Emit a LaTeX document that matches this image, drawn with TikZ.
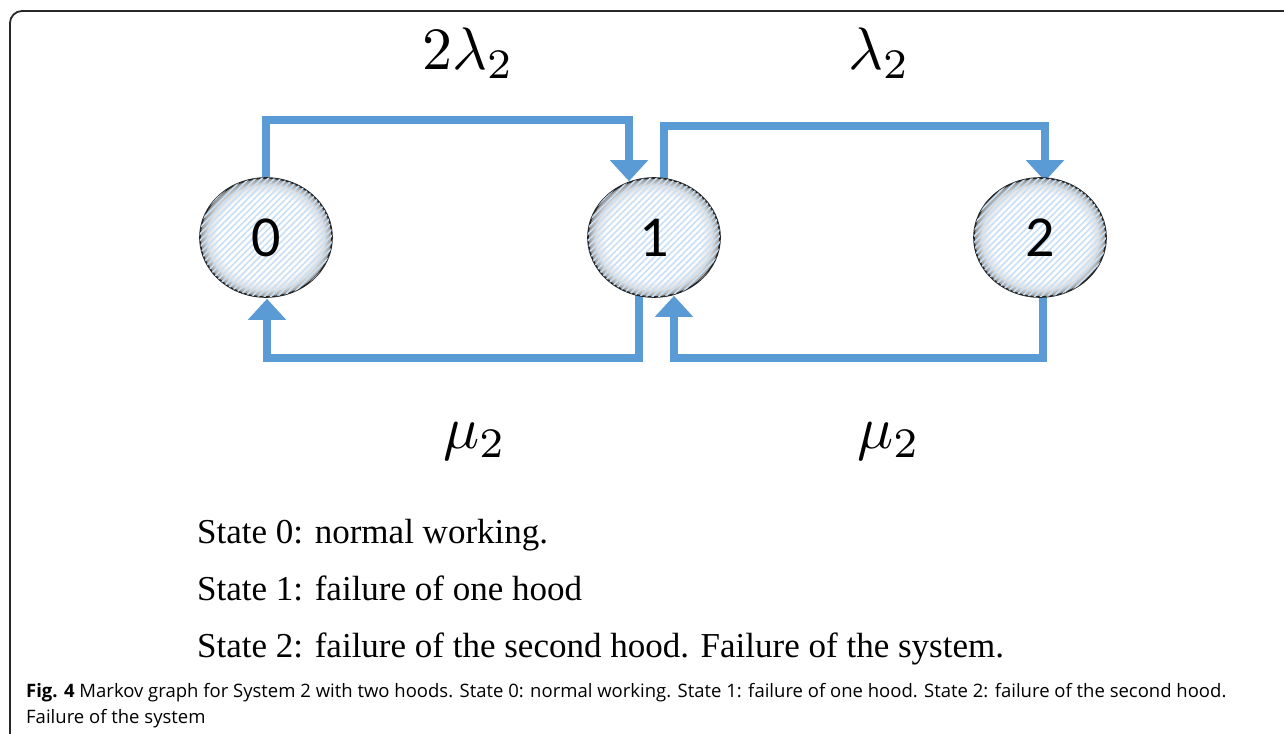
\documentclass[tikz,border=0pt]{standalone}
\usepackage{graphicx}
\usepackage{fontspec}
\setmainfont{Liberation Serif}
\newfontfamily\digitfont{Carlito}
\newfontfamily\capfont{Open Sans}
\usetikzlibrary{shapes.geometric,arrows.meta,patterns.meta,backgrounds}
\definecolor{flowblue}{RGB}{91,155,213}
\definecolor{stripeblue}{RGB}{200,224,246}
\definecolor{framegray}{RGB}{40,40,40}
\pgfdeclareradialshading{ballsh}{\pgfpoint{0bp}{0bp}}{color(0bp)=(white); color(18bp)=(white); color(22bp)=(black!12); color(25bp)=(black!45); color(50bp)=(black!45)}
\tikzset{
  statenode/.style={ellipse, draw=black!85, line width=1.6pt, minimum width=132pt, minimum height=119pt, inner sep=0pt,
    shading=ballsh,
    postaction={pattern={Lines[angle=45,distance=4.5pt,line width=1.6pt]}, pattern color=stripeblue},
    font=\digitfont\fontsize{58}{58}\selectfont},
  flow/.style={draw=flowblue, line width=8pt, -{Triangle[width=37pt,length=21pt]}},
  ratelabel/.style={anchor=base west, inner sep=0pt},
  statetext/.style={anchor=base west, inner sep=0pt, font=\fontsize{35}{35}\selectfont},
  captext/.style={anchor=base west, inner sep=0pt, align=left, font=\capfont\fontsize{18.5}{26}\selectfont}
}
\begin{document}
\begin{tikzpicture}[x=1pt,y=-1pt]
\useasboundingbox (0,0) rectangle (1284,733);
% frame
\coordinate (fbl) at (10,740);
\coordinate (ftl) at (10,11);
\coordinate (ftr) at (1290,11);
\draw[framegray, line width=1.8pt, rounded corners=12pt] (fbl) -- (ftl) -- (ftr);

% states
\node[statenode] (n0) at (266,237.5) {0};
\node[statenode] (n1) at (654,237.5) {1};
\node[statenode] (n2) at (1040,237.5) {2};

% transitions
\begin{scope}[on background layer]
\draw[flow] (n0.north) -- ++(0,-57) -| ([xshift=-25pt,yshift=-4pt]n1.north);
\draw[flow] ([xshift=10pt,yshift=-3pt]n1.north) -- ++(0,-54) -| ([xshift=5pt,yshift=-4pt]n2.north);
\draw[flow] ([xshift=-15pt,yshift=3pt]n1.south) -- ++(0,63.5) -| ([xshift=1pt,yshift=-1pt]n0.south);
\draw[flow] ([xshift=3pt,yshift=3pt]n2.south) -- ++(0,63.5) -| ([xshift=20pt,yshift=2pt]n1.south);
\end{scope}

% rate labels
\node[ratelabel] (l01) at (422,70) {\scalebox{6}{$2\lambda_2$}};
\node[ratelabel] (l12) at (848,70) {\scalebox{6}{$\lambda_2$}};
\node[ratelabel] (m10) at (443,448) {\scalebox{6}{$\mu_2$}};
\node[ratelabel] (m21) at (857,448) {\scalebox{6}{$\mu_2$}};

% state descriptions
\node[statetext] (s0) at (197,543) {State 0: normal working.};
\node[statetext] (s1) at (197,600) {State 1: failure of one hood};
\node[statetext] (s2) at (197,657) {State 2: failure of the second hood. Failure of the system.};

% caption
\node[captext] (cap) at (26,723) {\textbf{Fig. 4} Markov graph for System 2 with two hoods. State 0: normal working. State 1: failure of one hood. State 2: failure of the second hood.\\Failure of the system};
\end{tikzpicture}
\end{document}
